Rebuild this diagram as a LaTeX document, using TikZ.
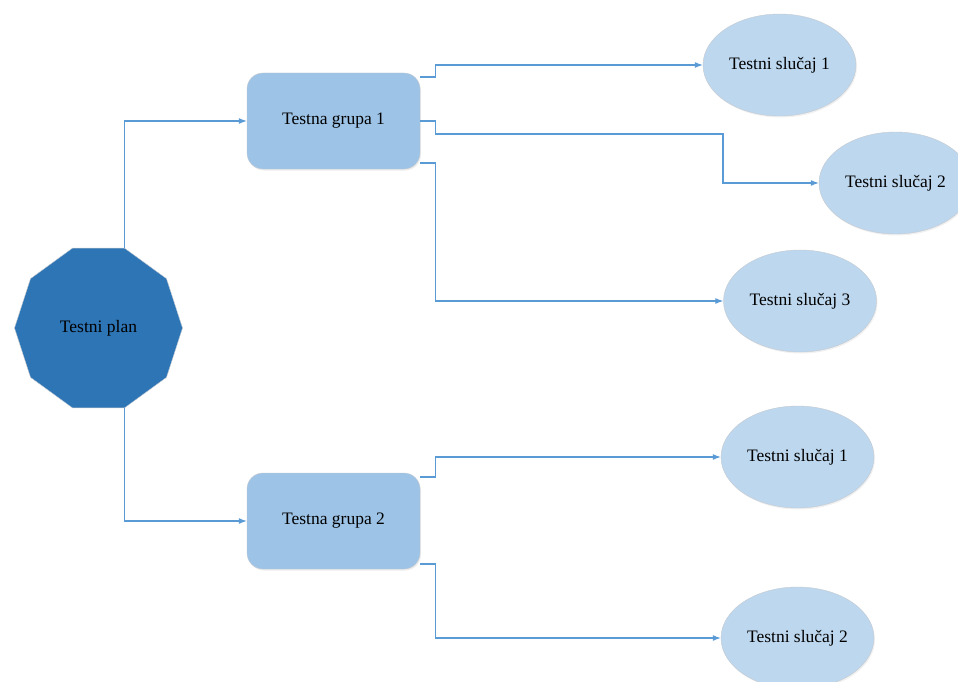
\documentclass[tikz,border=0pt]{standalone}
\usepackage{fontspec}
\setmainfont{Liberation Serif}
\usetikzlibrary{shapes.geometric,arrows.meta,shadows}

\definecolor{planblue}{RGB}{46,117,182}
\definecolor{groupblue}{RGB}{157,195,230}
\definecolor{caseblue}{RGB}{189,215,238}
\definecolor{lineblue}{RGB}{91,155,213}
\definecolor{edgegray}{RGB}{196,202,208}

\begin{document}
\begin{tikzpicture}[x = 1pt, y = -1pt, font = \fontsize{17.5}{21}\selectfont,
		plan/.style = {regular polygon, regular polygon sides = 10, minimum size = 168pt, inner sep = 0, fill = planblue, draw = edgegray},
		group/.style = {rectangle, rounded corners = 16pt, minimum width = 173pt, minimum height = 96pt, fill = groupblue, draw = edgegray, drop shadow = {opacity = 0.15, shadow xshift = 1pt, shadow yshift = -1.5pt}},
		case/.style = {ellipse, minimum width = 153pt, minimum height = 102pt, inner sep = 0, fill = caseblue, draw = edgegray, drop shadow = {opacity = 0.12, shadow xshift = 1pt, shadow yshift = -1.5pt}},
		conn/.style = {draw = lineblue, line width = 1.1pt, -{Latex[length = 8pt, width = 6pt]}}]
			\clip (0,0) rectangle (958,682); % page
			
			\node[plan] (plan) at (98.5,328) {Testni plan};
			
			\node[group] (g1) at (333.5,121) {Testna grupa 1};
			\node[group] (g2) at (333.5,521) {Testna grupa 2};
			
			\node[case] (c11) at (779.5,65) {Testni slučaj 1};
			\node[case] (c12) at (895.5,183) {Testni slučaj 2};
			\node[case] (c13) at (800,301) {Testni slučaj 3};
			
			\node[case] (c21) at (797.5,457) {Testni slučaj 1};
			\node[case] (c22) at (797.5,638) {Testni slučaj 2};
			
			\coordinate (bend) at (723,134); % jog of the middle line
			
			% plan to groups
			\draw[conn] ([xshift = 26pt]plan.north) |- (g1.west);
			\draw[conn] ([xshift = 26pt]plan.south) |- (g2.west);
			
			% group 1 to cases
			\draw[conn] ([yshift = 44pt]g1.east) -- ++(15,0) |- (c11.west);
			\draw[conn] (g1.east) -- ++(15,0) |- (bend) |- (c12.west);
			\draw[conn] ([yshift = -42pt]g1.east) -- ++(15,0) |- (c13.west);
			
			% group 2 to cases
			\draw[conn] ([yshift = 44pt]g2.east) -- ++(15,0) |- (c21.west);
			\draw[conn] ([yshift = -43pt]g2.east) -- ++(15,0) |- (c22.west);
		\end{tikzpicture}
\end{document}
